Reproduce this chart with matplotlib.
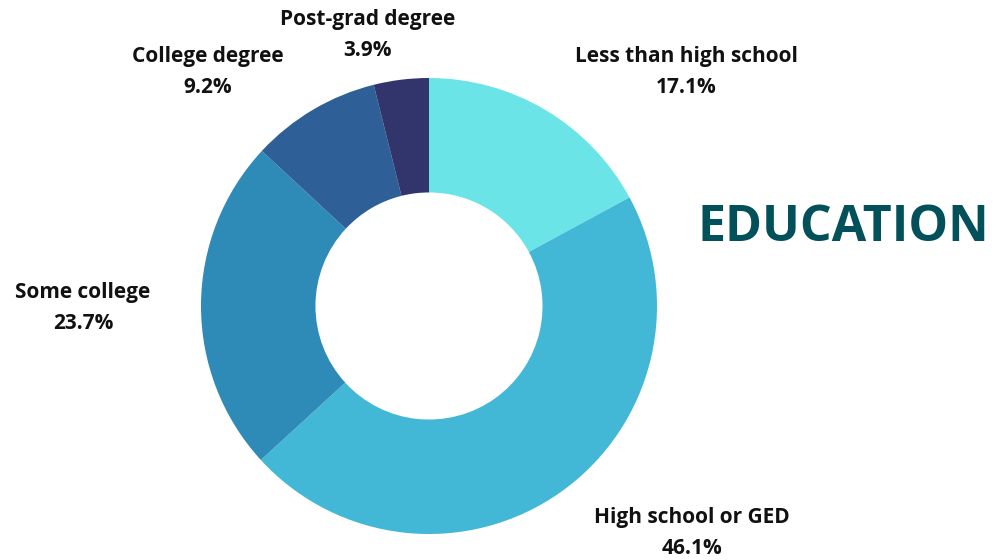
import matplotlib.pyplot as plt

# Education breakdown (share of respondents, %)
categories = ['Less than high school', 'High school or GED', 'Some college',
              'College degree', 'Post-grad degree']
shares = [17.1, 46.1, 23.7, 9.2, 3.9]
colors = ['#6BE4E8', '#42B8D6', '#2E8BB8', '#2E5F96', '#32356B']

# label anchor points in pixel space (x, y from top)
label_pos = [(686, 56), (692, 517), (83, 292), (208, 56), (368, 19)]

W, H = 995, 560
fig = plt.figure(figsize=(W / 100, H / 100), dpi=100)
ax = fig.add_axes([0, 0, 1, 1])
ax.set_xlim(0, W)
ax.set_ylim(0, H)
ax.set_aspect('equal')
ax.axis('off')

cx, cy, r = 429, H - 306, 228
ax.pie(shares, colors=colors, startangle=90, counterclock=False,
       center=(cx, cy), radius=r,
       wedgeprops=dict(width=r * 0.502, edgecolor='none'))
ax.set_xlim(0, W)
ax.set_ylim(0, H)

font = ['Open Sans', 'DejaVu Sans']
for name, val, (x, y) in zip(categories, shares, label_pos):
    ax.text(x, H - y, name, ha='center', va='center', fontsize=15,
            fontweight='bold', family=font, color='#111111')
    ax.text(x, H - y - 31, f'{val}%', ha='center', va='center', fontsize=15,
            fontweight='bold', family=font, color='#111111')

ax.text(697, H - 228, 'EDUCATION', ha='left', va='center', fontsize=36,
        fontweight='bold', family=font, color='#02505A')

fig.savefig('out.png', dpi=100)
